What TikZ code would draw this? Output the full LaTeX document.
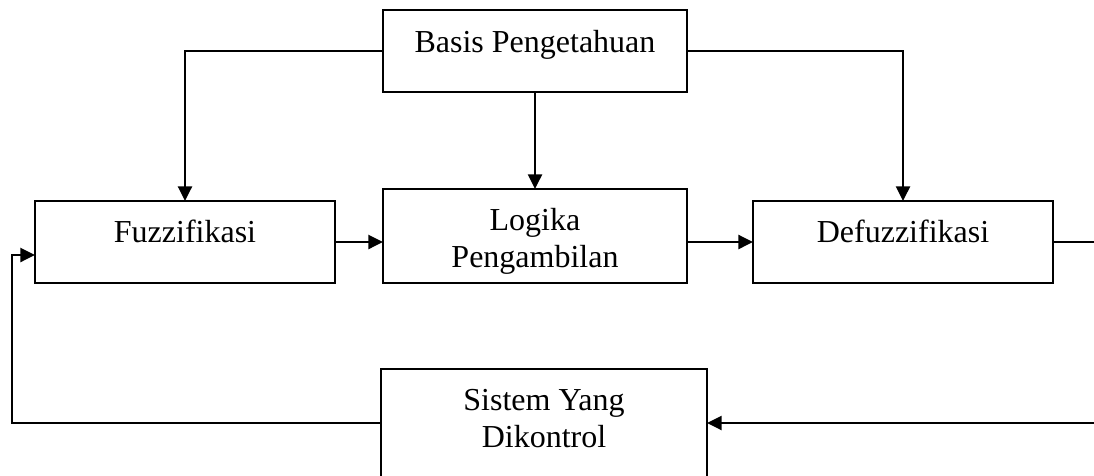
\documentclass[tikz,border=0pt]{standalone}
\usepackage{fontspec}
\setmainfont{Liberation Serif}
\usetikzlibrary{arrows.meta,calc}
\begin{document}
\begin{tikzpicture}[x=0.75pt,y=-0.75pt,
  box/.style={draw,line width=1.8pt,inner sep=0pt,outer sep=0pt},
  lbl/.style={font=\fontsize{24pt}{27.75pt}\selectfont,inner sep=0pt,anchor=base,align=center},
  conn/.style={line width=1.8pt},
  arr/.style={conn,-{Triangle[length=11pt,width=10.5pt]}}]
\useasboundingbox (0,0) rectangle (1094,475);
\clip (0,0) rectangle (1094,475);
% boxes
\node[box,minimum width=304*0.75pt,minimum height=82*0.75pt] (basis) at (535,51) {};
\node[box,minimum width=300*0.75pt,minimum height=82*0.75pt] (fuzz) at (185,242) {};
\node[box,minimum width=304*0.75pt,minimum height=94*0.75pt] (logika) at (535,236) {};
\node[box,minimum width=300*0.75pt,minimum height=82*0.75pt] (defuzz) at (903,242) {};
\node[box,minimum width=326*0.75pt,minimum height=130*0.75pt] (sistem) at (544,434) {};
% texts
\node[lbl] (tbasis) at (535,52) {Basis Pengetahuan};
\node[lbl] (tfuzz) at (185,242) {Fuzzifikasi};
\node[lbl] (tlog) at (535,267) {Logika\\Pengambilan};
\node[lbl] (tdef) at (903,242) {Defuzzifikasi};
\node[lbl] (tsis) at (544,447) {Sistem Yang\\Dikontrol};
% free ends
\coordinate (outR) at (1100,242);
\coordinate (inR) at (1100,423);
\coordinate (fb) at (12,423);
% connectors
\draw[arr] (basis.west) -| (fuzz.north);
\draw[arr] (basis.south) -- (logika.north);
\draw[arr] (basis.east) -| (defuzz.north);
\draw[arr] (fuzz.east) -- (fuzz.east -| logika.west);
\draw[arr] (defuzz.west -| logika.east) -- (defuzz.west);
\draw[conn] (defuzz.east) -- (outR);
\draw[arr] (inR) -- (inR -| sistem.east);
\draw[arr] (fb -| sistem.west) -- (fb) |- ($(fuzz.west)+(0,13)$);
\end{tikzpicture}
\end{document}
